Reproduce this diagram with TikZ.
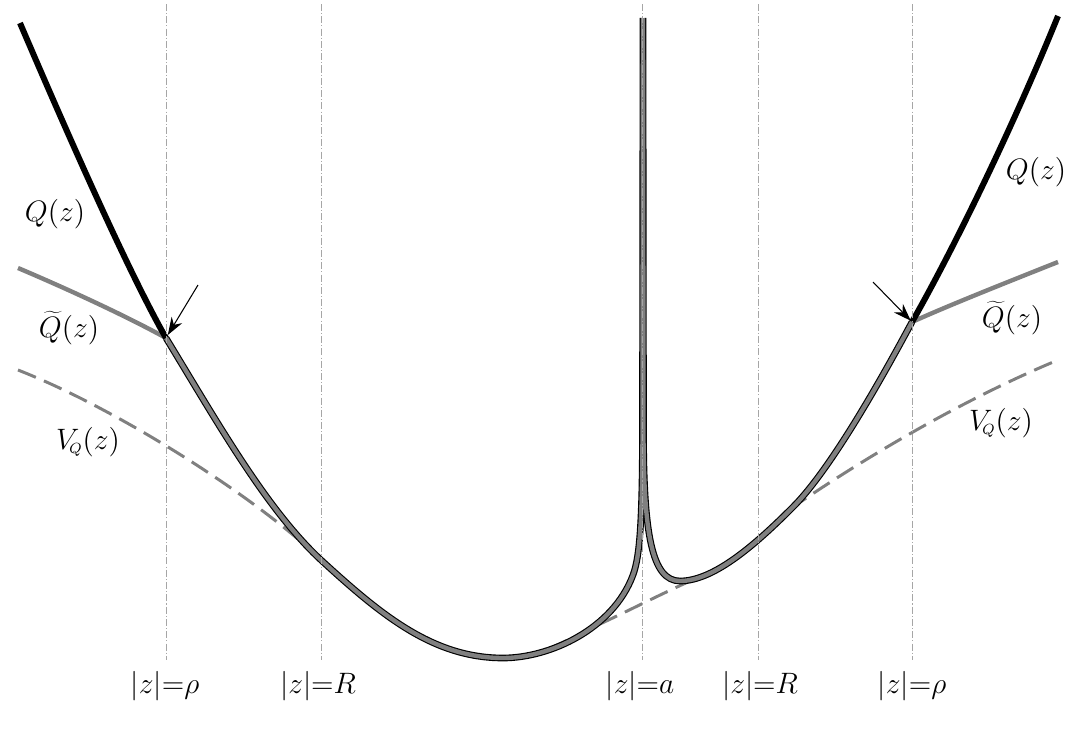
\RequirePackage{fix-cm}
\documentclass[tikz,border=0pt]{standalone}
\usetikzlibrary{arrows.meta}
\begin{document}
\begin{tikzpicture}[x=0.02cm,y=-0.02cm,
  lab/.style={font=\fontsize{16.8}{20}\selectfont, inner sep=0pt},
  guide/.style={draw=black!35, line width=0.5pt, dash pattern=on 4pt off 1.2pt on 0.6pt off 1.2pt},
  qline/.style={draw=black, line width=3.4pt},
  qtilde/.style={draw=black!50, line width=2.5pt},
  vq/.style={draw=black!50, line width=1.7pt, dash pattern=on 11pt off 5pt},
  mainc/.style={draw=black, double=black!50, double distance=2.5pt, line width=0.65pt, line join=round},
  pointer/.style={-{Stealth[length=10pt,width=7pt]}, line width=0.6pt}]
\useasboundingbox (0,0) rectangle (1080,734);

% named points
\coordinate (jl) at (166,338);
\coordinate (jr) at (912,322);
\coordinate (al) at (198,285);
\coordinate (ar) at (873,282);
\coordinate (qlt) at (20,23);
\coordinate (qrt) at (1058,16);
\coordinate (tlt) at (18,268);
\coordinate (trt) at (1058,262);
\coordinate (top) at (643,18);

% V_Q dashed
\draw[vq] (18,370) .. controls (120,410) and (260,500) .. (321,560)
  .. controls (381,615) and (433,658) .. (503,658)
  .. controls (540,658) and (570,638) .. (600,624)
  .. controls (630,610) and (665,592) .. (696.1,578.4)
  .. controls (727.7,569.4) and (763.25,536.75) .. (793,507)
  .. controls (850,468) and (950,405) .. (1058,360);

% Q tilde
\draw[qtilde] (tlt) .. controls (70,290) and (130,318) .. (jl);
\draw[qtilde] (jr) .. controls (945,307) and (1000,285) .. (trt);

% Q
\draw[qline] (qlt) .. controls (70,140) and (130,275) .. (jl);
\draw[qline] (jr) .. controls (948,259) and (1008,139) .. (qrt);

% main curve
\draw[mainc]
  (jl) .. controls (216,420) and (266,509) .. (321,560)
  .. controls (381,615) and (433,658) .. (503,658)
  .. controls (550,658) and (613,629) .. (633,575)
  .. controls (640,556) and (642.5,520) .. (642.5,420) -- (top)
  (top) -- (643.5,430) .. controls (643.5,535) and (652,581) .. (680,581)
  .. controls (715,581) and (758,542) .. (793,507)
  .. controls (833,467) and (887,368.5) .. (jr);

% guides
\foreach \gx/\gn in {166/g1, 321/g2, 642/g3, 758/g4, 912/g5}{
  \coordinate (\gn t) at (\gx,4);
  \coordinate (\gn b) at (\gx,660);
  \draw[guide] (\gn t) -- (\gn b);
}

% arrows
\draw[pointer, shorten >=2pt] (al) -- (jl);
\draw[pointer, shorten >=1pt] (ar) -- (jr);

% labels
\node[lab] (lQl) at (55,214) {$Q(z)$};
\node[lab] (lQtl) at (69,328) {$\widetilde{Q}(z)$};
\node[lab] (lVl) at (88,442) {$V_{\!\scriptscriptstyle Q}(z)$};
\node[lab] (lQr) at (1036,172) {$Q(z)$};
\node[lab] (lQtr) at (1012,318) {$\widetilde{Q}(z)$};
\node[lab] (lVr) at (1001,423) {$V_{\!\scriptscriptstyle Q}(z)$};

\node[lab] (b1) at (165,686) {$|z|{=}\rho$};
\node[lab] (b2) at (318,686) {$|z|{=}R$};
\node[lab] (b3) at (640,686) {$|z|{=}a$};
\node[lab] (b4) at (760,686) {$|z|{=}R$};
\node[lab] (b5) at (912,686) {$|z|{=}\rho$};
\end{tikzpicture}
\end{document}
